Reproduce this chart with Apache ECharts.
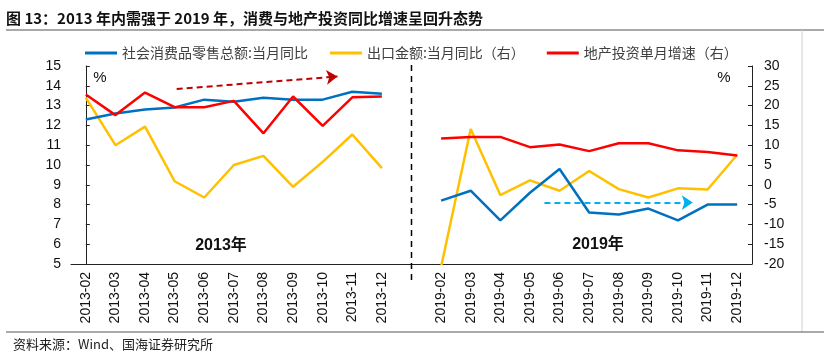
<!DOCTYPE html>
<html>
<head>
<meta charset="utf-8">
<script src="https://cdn.jsdelivr.net/npm/echarts@6/dist/echarts.min.js"></script>
<style>
html,body{margin:0;padding:0;background:#fff;}
#chart{width:824px;height:358px;}
</style>
</head>
<body>
<div id="chart"></div>
<script>
var cats2013 = ['2013-02','2013-03','2013-04','2013-05','2013-06','2013-07','2013-08','2013-09','2013-10','2013-11','2013-12'];
var cats2019 = ['2019-02','2019-03','2019-04','2019-05','2019-06','2019-07','2019-08','2019-09','2019-10','2019-11','2019-12'];
var retail2013 = [12.3, 12.6, 12.8, 12.9, 13.3, 13.2, 13.4, 13.3, 13.3, 13.7, 13.6];
var retail2019 = [8.2, 8.7, 7.2, 8.6, 9.8, 7.6, 7.5, 7.8, 7.2, 8.0, 8.0];
var export2013 = [22.0, 10.0, 14.7, 0.9, -3.2, 5.0, 7.3, -0.5, 5.8, 12.7, 4.2];
var export2019 = [-20.7, 14.1, -2.6, 1.1, -1.5, 3.5, -1.1, -3.2, -0.9, -1.2, 7.6];
var realty2013 = [22.8, 17.6, 23.3, 19.6, 19.6, 21.2, 13.0, 22.3, 14.9, 22.1, 22.3];
var realty2019 = [11.7, 12.1, 12.1, 9.5, 10.2, 8.5, 10.5, 10.5, 8.7, 8.3, 7.4];
var leftTicks = {min: 5, max: 15, interval: 1};
var rightTicks = {min: -20, max: 30, interval: 5};

var categories = cats2013.concat([''], cats2019);
function joinGap(a, b) { return a.concat([null], b); }

var names = ['社会消费品零售总额:当月同比', '出口金额:当月同比（右）', '地产投资单月增速（右）'];
var cjk = '"Noto Sans CJK SC", sans-serif';
var arial = '"Liberation Sans", Arial, sans-serif';

var chart = echarts.init(document.getElementById('chart'));
var baseGraphics = [
  {type: 'text', left: 6, top: 11, style: {text: '图 13：2013 年内需强于 2019 年，消费与地产投资同比增速呈回升态势', font: 'bold 15px "Noto Sans CJK SC", sans-serif', fill: '#111'}},
  {type: 'line', shape: {x1: 6, y1: 30, x2: 824, y2: 30}, style: {stroke: '#8c8c8c', lineWidth: 1.5}},
  {type: 'line', shape: {x1: 802, y1: 30, x2: 802, y2: 332}, style: {stroke: '#d0d0d0', lineWidth: 1}},
  {type: 'line', shape: {x1: 6, y1: 332, x2: 824, y2: 332}, style: {stroke: '#8c8c8c', lineWidth: 1.5}},
  {type: 'text', left: 13, top: 338, style: {text: '资料来源：Wind、国海证券研究所', font: '13px "Noto Sans CJK SC", sans-serif', fill: '#222'}},
  {type: 'text', x: 100, y: 78, style: {text: '%', font: '15px "Liberation Sans", Arial, sans-serif', fill: '#111', textAlign: 'center', textVerticalAlign: 'middle'}},
  {type: 'text', x: 724, y: 78, style: {text: '%', font: '15px "Liberation Sans", Arial, sans-serif', fill: '#111', textAlign: 'center', textVerticalAlign: 'middle'}},
  {type: 'text', x: 221, y: 246, style: {text: '2013年', font: 'bold 16px "Liberation Sans", "Noto Sans CJK SC", sans-serif', fill: '#111', textAlign: 'center', textVerticalAlign: 'middle'}},
  {type: 'text', x: 598, y: 245, style: {text: '2019年', font: 'bold 16px "Liberation Sans", "Noto Sans CJK SC", sans-serif', fill: '#111', textAlign: 'center', textVerticalAlign: 'middle'}}
];
var option = {
  animation: false,
  backgroundColor: '#ffffff',
  grid: {left: 71, right: 72, top: 66, bottom: 94},
  legend: {
    left: 80, top: 41,
    itemWidth: 32, itemHeight: 3, itemGap: 22,
    icon: 'rect',
    textStyle: {fontFamily: cjk, fontSize: 14, color: '#404040'},
    data: names
  },
  xAxis: [
    {
      type: 'category',
      data: categories,
      boundaryGap: true,
      axisLine: {onZero: false, lineStyle: {color: '#222', width: 1}},
      axisTick: {inside: true, length: 5, lineStyle: {color: '#222'}, interval: 0},
      axisLabel: {rotate: 90, interval: 0, margin: 8, fontFamily: arial, fontSize: 14, color: '#111'}
    },
    {
      // hidden continuous twin of the category axis, for annotation arrows between categories
      type: 'value', show: false, min: -0.5, max: categories.length - 0.5
    }
  ],
  yAxis: [
    {
      type: 'value', min: leftTicks.min, max: leftTicks.max, interval: leftTicks.interval,
      splitLine: {show: false},
      axisLine: {show: true, lineStyle: {color: '#222'}},
      axisTick: {show: true, inside: true, length: 4, lineStyle: {color: '#222'}},
      axisLabel: {margin: 10, fontFamily: arial, fontSize: 14, color: '#111'}
    },
    {
      type: 'value', min: rightTicks.min, max: rightTicks.max, interval: rightTicks.interval,
      splitLine: {show: false},
      axisLine: {show: true, lineStyle: {color: '#222'}},
      axisTick: {show: true, inside: true, length: 4, lineStyle: {color: '#222'}},
      axisLabel: {margin: 12, fontFamily: arial, fontSize: 14, color: '#111'}
    }
  ],
  series: [
    {
      name: names[0], type: 'line', yAxisIndex: 0,
      data: joinGap(retail2013, retail2019),
      showSymbol: false, symbol: 'none',
      lineStyle: {color: '#0070C0', width: 2.5},
      itemStyle: {color: '#0070C0'},
      z: 3
    },
    {
      name: names[1], type: 'line', yAxisIndex: 1,
      data: joinGap(export2013, export2019),
      showSymbol: false, symbol: 'none',
      lineStyle: {color: '#FFC000', width: 2.5},
      itemStyle: {color: '#FFC000'},
      z: 2
    },
    {
      name: names[2], type: 'line', yAxisIndex: 1,
      data: joinGap(realty2013, realty2019),
      showSymbol: false, symbol: 'none',
      lineStyle: {color: '#FF0000', width: 2.5},
      itemStyle: {color: '#FF0000'},
      z: 4
    },
    {
      name: 'arrows', type: 'line', xAxisIndex: 1, yAxisIndex: 0,
      data: [], symbol: 'none', silent: true, z: 5,
      markLine: {
        silent: true,
        label: {show: false},
        animation: false,
        data: [
          [
            {coord: [3.07, 13.84], symbol: 'none', lineStyle: {color: '#C00000', type: [6, 4], width: 2}},
            {coord: [8.5, 14.47], symbol: 'arrow', symbolSize: [11, 11]}
          ],
          [
            {coord: [15.49, 8.1], symbol: 'none', lineStyle: {color: '#00B0F0', type: [6, 4], width: 2}},
            {coord: [20.5, 8.1], symbol: 'arrow', symbolSize: [11, 11]}
          ]
        ]
      }
    }
  ],
  graphic: baseGraphics
};
chart.setOption(option);

// divider between the two periods, placed on the blank category via the axis scale
var gapX = chart.convertToPixel({xAxisIndex: 0}, 11);
var topY = chart.convertToPixel({yAxisIndex: 0}, 15.05);
var botY = chart.convertToPixel({yAxisIndex: 0}, 4.15);
chart.setOption({
  graphic: baseGraphics.concat([
    {type: 'line', z: 10, shape: {x1: gapX, y1: topY, x2: gapX, y2: botY}, style: {stroke: '#000', lineWidth: 1.5, lineDash: [6, 5]}}
  ])
});
</script>
</body>
</html>
